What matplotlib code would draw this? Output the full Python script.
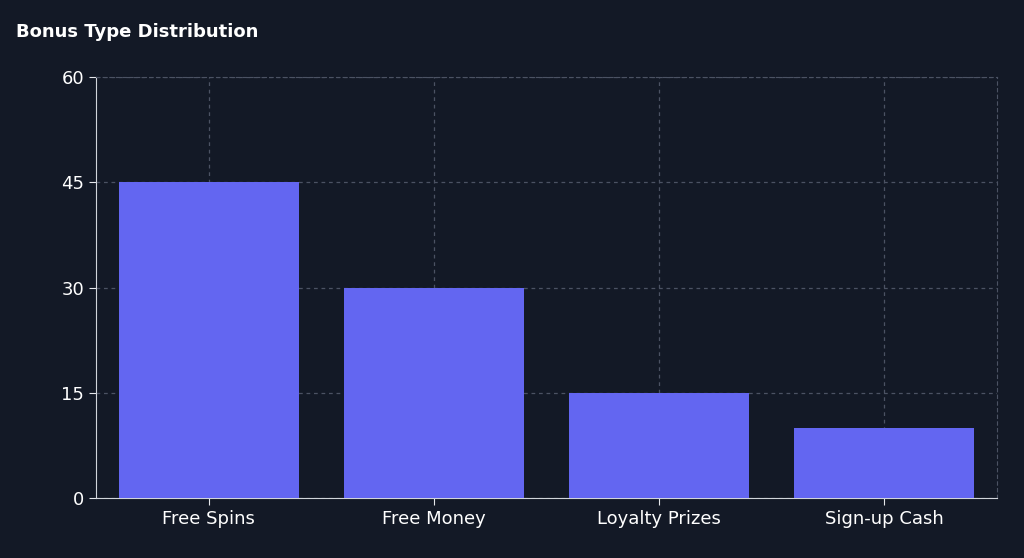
import matplotlib
matplotlib.use("Agg")
import matplotlib.pyplot as plt

categories = ["Free Spins", "Free Money", "Loyalty Prizes", "Sign-up Cash"]
values = [45, 30, 15, 10]
yticks = [0, 15, 30, 45, 60]

bg = "#131926"
fig = plt.figure(figsize=(10.24, 5.58), dpi=100, facecolor=bg)
ax = fig.add_axes([0.09375, 0.1075, 0.8799, 0.7545], facecolor=bg)
x = range(len(categories))
ax.bar(x, values, width=0.8, color="#6366f1", zorder=3)
ax.set_xlim(-0.5, len(categories) - 0.5)
ax.set_ylim(0, 60)
ax.set_yticks(yticks)
ax.set_xticks(list(x))
ax.set_xticklabels(categories)
ax.grid(True, color="#4b5263", linestyle=(0, (3, 3)), linewidth=0.9, zorder=0)
for s in ["top", "right"]:
    ax.spines[s].set_color("#4b5263")
    ax.spines[s].set_linestyle((0, (3, 3)))
for s in ["left", "bottom"]:
    ax.spines[s].set_color("#d1d5db")
ax.tick_params(colors="#e5e7eb", labelsize=13, length=5, labelcolor="#ffffff")
fig.text(0.016, 0.942, "Bonus Type Distribution", color="white", fontsize=13, fontweight="bold", va="center")
fig.savefig("out.png", facecolor=bg)
